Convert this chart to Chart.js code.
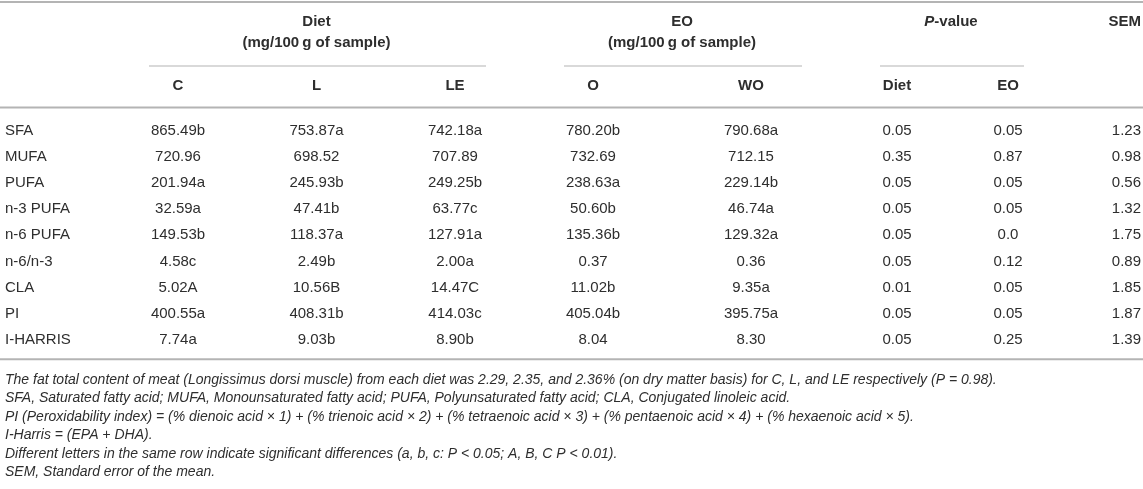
<!DOCTYPE html>
<html lang="en">
<head>
  <meta charset="UTF-8">
  <title>Fatty acid profile of meat by diet and EO</title>
  <script src="https://cdn.jsdelivr.net/npm/chart.js"></script>
  <style>
    html, body { margin: 0; padding: 0; background: #fff; }
    .chart-container { position: relative; width: 1143px; height: 489px; }
  </style>
</head>
<body>
  <div class="chart-container">
    <canvas id="tableChart"></canvas>
  </div>

  <script>
    // Table data
    const rowLabels = ['SFA', 'MUFA', 'PUFA', 'n-3 PUFA', 'n-6 PUFA', 'n-6/n-3', 'CLA', 'PI', 'I-HARRIS'];
    const dietC  = ['865.49b', '720.96', '201.94a', '32.59a', '149.53b', '4.58c', '5.02A', '400.55a', '7.74a'];
    const dietL  = ['753.87a', '698.52', '245.93b', '47.41b', '118.37a', '2.49b', '10.56B', '408.31b', '9.03b'];
    const dietLE = ['742.18a', '707.89', '249.25b', '63.77c', '127.91a', '2.00a', '14.47C', '414.03c', '8.90b'];
    const eoO    = ['780.20b', '732.69', '238.63a', '50.60b', '135.36b', '0.37', '11.02b', '405.04b', '8.04'];
    const eoWO   = ['790.68a', '712.15', '229.14b', '46.74a', '129.32a', '0.36', '9.35a', '395.75a', '8.30'];
    const pDiet  = ['0.05', '0.35', '0.05', '0.05', '0.05', '0.05', '0.01', '0.05', '0.05'];
    const pEO    = ['0.05', '0.87', '0.05', '0.05', '0.0', '0.12', '0.05', '0.05', '0.25'];
    const sem    = ['1.23', '0.98', '0.56', '1.32', '1.75', '0.89', '1.85', '1.87', '1.39'];

    const subHeaders = ['', 'C', 'L', 'LE', 'O', 'WO', 'Diet', 'EO', ''];
    const groupHeaders = [
      { label: 'Diet', unit: '(mg/100\u2009g of sample)', from: 1, to: 3 },
      { label: 'EO', unit: '(mg/100\u2009g of sample)', from: 4, to: 5 },
      { label: 'P-value', unit: '', from: 6, to: 7 }
    ];
    const footnotes = [
      'The fat total content of meat (Longissimus dorsi muscle) from each diet was 2.29, 2.35, and 2.36% (on dry matter basis) for C, L, and LE respectively (P = 0.98).',
      'SFA, Saturated fatty acid; MUFA, Monounsaturated fatty acid; PUFA, Polyunsaturated fatty acid; CLA, Conjugated linoleic acid.',
      'PI (Peroxidability index) = (% dienoic acid \u00d7 1) + (% trienoic acid \u00d7 2) + (% tetraenoic acid \u00d7 3) + (% pentaenoic acid \u00d7 4) + (% hexaenoic acid \u00d7 5).',
      'I-Harris = (EPA + DHA).',
      'Different letters in the same row indicate significant differences (a, b, c: P < 0.05; A, B, C P < 0.01).',
      'SEM, Standard error of the mean.'
    ];

    // Layout (column widths like a colgroup, alignment per column)
    const colWidths = [109, 138, 139, 138, 138, 178, 114, 108, 81];
    const colAlign = ['left', 'center', 'center', 'center', 'center', 'center', 'center', 'center', 'right'];
    const colStarts = colWidths.map((w, i) => colWidths.slice(0, i).reduce((a, b) => a + b, 0));
    const totalWidth = colWidths.reduce((a, b) => a + b, 0);

    function anchorX(i) {
      if (colAlign[i] === 'left') return colStarts[i] + 5;
      if (colAlign[i] === 'right') return colStarts[i] + colWidths[i] - 2;
      return colStarts[i] + colWidths[i] / 2;
    }

    const columns = [rowLabels, dietC, dietL, dietLE, eoO, eoWO, pDiet, pEO, sem];

    const TEXT = '#2e2e2e';
    const RULE = '#b4b4b4';
    const FONT = '"Liberation Sans", Arial, Helvetica, sans-serif';

    const datasets = columns.map((col, ci) => ({
      label: 'col' + ci,
      texts: col,
      align: colAlign[ci],
      data: col.map((v, ri) => ({ x: anchorX(ci), y: rowLabels[ri] })),
      pointRadius: 0,
      pointHoverRadius: 0
    }));

    const tablePlugin = {
      id: 'tablePlugin',
      afterDatasetsDraw(chart) {
        const ctx = chart.ctx;
        const xs = chart.scales.x;
        const area = chart.chartArea;
        const W = chart.width;
        ctx.save();
        ctx.textBaseline = 'middle';

        // rules
        function rule(x1, x2, y, w) {
          ctx.strokeStyle = RULE;
          ctx.lineWidth = w;
          ctx.beginPath();
          ctx.moveTo(x1, y);
          ctx.lineTo(x2, y);
          ctx.stroke();
        }
        rule(0, W, 2, 2);
        rule(0, W, area.top - 10, 2);
        rule(0, W, area.bottom + 6, 2);

        // group headers
        ctx.fillStyle = TEXT;
        groupHeaders.forEach(g => {
          const left = xs.getPixelForValue(colStarts[g.from]);
          const right = xs.getPixelForValue(colStarts[g.to] + colWidths[g.to]);
          const cx = (left + right) / 2;
          if (g.label === 'P-value') {
            ctx.font = 'italic bold 15px ' + FONT;
            const wP = ctx.measureText('P').width;
            ctx.font = 'bold 15px ' + FONT;
            const wRest = ctx.measureText('-value').width;
            const start = cx - (wP + wRest) / 2;
            ctx.textAlign = 'left';
            ctx.font = 'italic bold 15px ' + FONT;
            ctx.fillText('P', start, 22);
            ctx.font = 'bold 15px ' + FONT;
            ctx.fillText('-value', start + wP, 22);
          } else {
            ctx.font = 'bold 15px ' + FONT;
            ctx.textAlign = 'center';
            ctx.fillText(g.label, cx, 22);
            ctx.fillText(g.unit, cx, 43);
          }
          rule(left + 40, right - 38, 66, 1.2);
        });
        ctx.font = 'bold 15px ' + FONT;
        ctx.textAlign = 'right';
        ctx.fillStyle = TEXT;
        ctx.fillText('SEM', xs.getPixelForValue(anchorX(8)), 22);

        // sub headers
        subHeaders.forEach((h, i) => {
          if (!h) return;
          ctx.textAlign = colAlign[i];
          ctx.fillText(h, xs.getPixelForValue(anchorX(i)), 86);
        });

        // body cells
        ctx.font = '15px ' + FONT;
        chart.data.datasets.forEach((ds, di) => {
          const meta = chart.getDatasetMeta(di);
          ctx.textAlign = ds.align;
          meta.data.forEach((pt, ri) => {
            ctx.fillText(ds.texts[ri], pt.x, pt.y);
          });
        });

        // footnotes
        ctx.font = 'italic 14px ' + FONT;
        ctx.textAlign = 'left';
        footnotes.forEach((f, i) => {
          ctx.fillText(f, 5, area.bottom + 27 + i * 18.4);
        });
        ctx.restore();
      }
    };

    new Chart(document.getElementById('tableChart').getContext('2d'), {
      type: 'scatter',
      data: { datasets: datasets },
      options: {
        responsive: true,
        maintainAspectRatio: false,
        animation: false,
        events: [],
        layout: { padding: { top: 117.4, bottom: 135.8, left: 0, right: 0 } },
        plugins: { legend: { display: false }, tooltip: { enabled: false } },
        scales: {
          x: { type: 'linear', min: 0, max: totalWidth, display: false },
          y: { type: 'category', labels: rowLabels, offset: true, display: false }
        }
      },
      plugins: [tablePlugin]
    });
  </script>
</body>
</html>
